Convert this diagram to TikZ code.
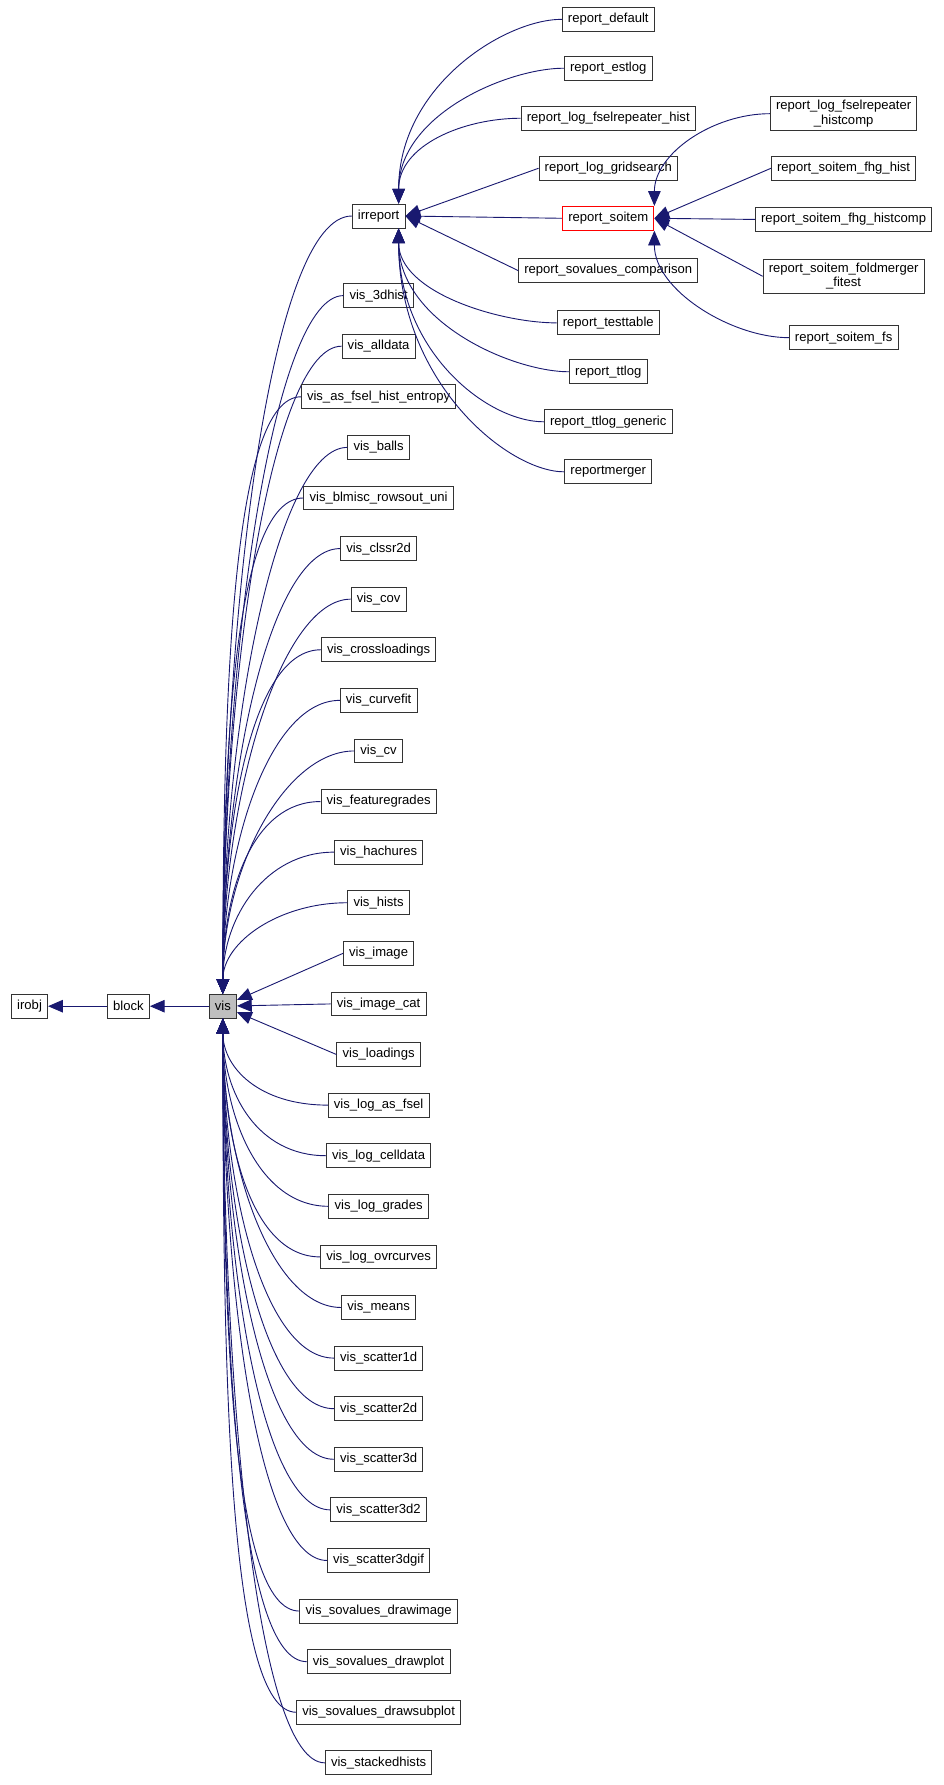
\documentclass[tikz,border=0pt]{standalone}
\usepackage{fontspec}
\setmainfont{Liberation Sans}
\usetikzlibrary{arrows.meta}
\definecolor{edgeblue}{HTML}{191970}
\tikzset{
  cls/.style={draw=black!80, fill=white, font=\fontsize{11.5}{12.5}\selectfont, inner xsep=5pt,
    minimum height=21pt, align=center, line width=0.8pt},
  arr/.style={edgeblue, line width=0.8pt, -{Triangle[length=13pt,width=11pt]}}
}
\begin{document}
\begin{tikzpicture}[x=1pt,y=-1pt]
\useasboundingbox (0,0) rectangle (830,1570);
% inheritance chain
\node[cls] (irobj) at (26,885) {irobj};
\node[cls] (block) at (113,885) {block};
\node[cls, fill=black!25] (vis) at (196,885) {vis};
\draw[arr] (block) -- (irobj);
\draw[arr] (vis) -- (block);
% children of vis
\node[cls] (irreport) at (333,190) {irreport};
\draw[arr] (irreport.west) .. controls +(-70,0) and +(0,-350) .. (vis.north);
\foreach \n [count=\i from 0] in {vis\_3dhist, vis\_alldata, vis\_as\_fsel\_hist\_entropy, vis\_balls,
  vis\_blmisc\_rowsout\_uni, vis\_clssr2d, vis\_cov, vis\_crossloadings, vis\_curvefit, vis\_cv,
  vis\_featuregrades, vis\_hachures, vis\_hists, vis\_image, vis\_image\_cat, vis\_loadings,
  vis\_log\_as\_fsel, vis\_log\_celldata, vis\_log\_grades, vis\_log\_ovrcurves, vis\_means,
  vis\_scatter1d, vis\_scatter2d, vis\_scatter3d, vis\_scatter3d2, vis\_scatter3dgif,
  vis\_sovalues\_drawimage, vis\_sovalues\_drawplot, vis\_sovalues\_drawsubplot, vis\_stackedhists} {
  \pgfmathsetmacro\yy{260+44.5*\i}
  \node[cls] (v\i) at (333,\yy) {\n};
  \pgfmathsetmacro\dy{\yy-885}
  \ifdim\dy pt<-60pt
    \draw[arr] (v\i.west) .. controls +(-60,0) and +(0,\dy*0.5) .. (vis.north);
  \else\ifdim\dy pt>60pt
    \draw[arr] (v\i.west) .. controls +(-60,0) and +(0,\dy*0.5) .. (vis.south);
  \else
    \draw[arr] (v\i.west) -- (vis);
  \fi\fi
}
% children of irreport
\foreach \n/\yy [count=\i] in {report\_default/17, report\_estlog/60, report\_log\_fselrepeater\_hist/104,
  report\_log\_gridsearch/148, report\_soitem/192, report\_sovalues\_comparison/238,
  report\_testtable/284, report\_ttlog/327, report\_ttlog\_generic/371, reportmerger/415} {
  \node[cls] (r\i) at (535,\yy) {\n};
  \pgfmathsetmacro\dy{\yy-190}
  \ifdim\dy pt<-60pt
    \draw[arr] (r\i.west) .. controls +(-50,0) and +(0,\dy*0.6) .. ([xshift=-6pt]irreport.north east);
  \else\ifdim\dy pt>60pt
    \draw[arr] (r\i.west) .. controls +(-50,0) and +(0,\dy*0.6) .. ([xshift=-6pt]irreport.south east);
  \else
    \draw[arr] (r\i.west) -- (irreport.east);
  \fi\fi
}
\node[cls, draw=red] at (r5) {report\_soitem};
% children of report_soitem
\foreach \n/\yy [count=\i] in {report\_log\_fselrepeater\\\_histcomp/100, report\_soitem\_fhg\_hist/148,
  report\_soitem\_fhg\_histcomp/193, report\_soitem\_foldmerger\\\_fitest/243, report\_soitem\_fs/297} {
  \node[cls] (s\i) at (742,\yy) {\n};
  \pgfmathsetmacro\dy{\yy-192}
  \ifdim\dy pt<-60pt
    \draw[arr] (s\i.west) .. controls +(-50,0) and +(0,\dy*0.5) .. (r5.north east);
  \else\ifdim\dy pt>60pt
    \draw[arr] (s\i.west) .. controls +(-50,0) and +(0,\dy*0.5) .. (r5.south east);
  \else
    \draw[arr] (s\i.west) -- (r5.east);
  \fi\fi
}
\end{tikzpicture}
\end{document}
